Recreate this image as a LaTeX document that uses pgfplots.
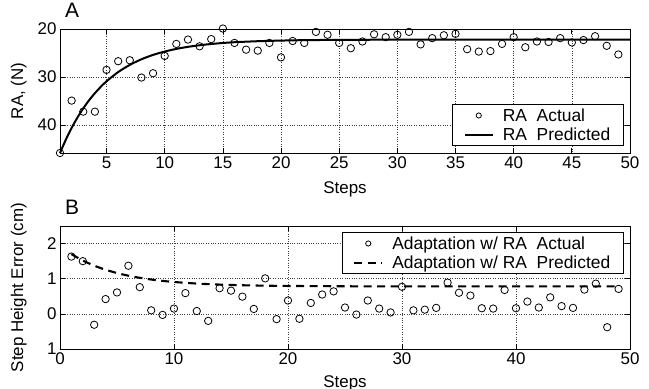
\documentclass[border=0pt]{standalone}
\usepackage{pgfplots}
\pgfplotsset{compat=1.18}
\usepackage{fontspec}
\setmainfont{Liberation Sans}
\newcommand{\fs}{\fontsize{17}{20}\selectfont}
\newcommand{\fl}{\fontsize{17.5}{20}\selectfont}
\newcommand{\ft}{\fontsize{21}{24}\selectfont}
\pgfplotsset{
  every axis/.append style={
    scale only axis, width=570bp,
    font=\fs,
    /pgf/number format/assume math mode=true,
    tick label style={font=\fs},
    axis line style={line width=0.9bp},
    every tick/.style={black, line width=0.7bp},
    major tick length=5bp,
    tick align=inside,
    xtick pos=both, ytick pos=both,
    grid=major,
    major grid style={dotted, line width=0.6bp, black!75},
    clip=false,
    xlabel style={at={(axis description cs:0.5,0)}, anchor=north, yshift=-28bp, inner sep=0pt},
    ylabel style={at={(axis description cs:-0.058,0.5)}, anchor=south, rotate=0, inner sep=0pt},
    title style={at={(axis description cs:0,1)}, anchor=south west, xshift=5bp, yshift=5bp, inner sep=0pt, font=\ft},
    legend style={draw=black, line width=0.8bp, font=\fl, nodes={font=\fl}, cells={anchor=west},
      inner xsep=11bp, inner ysep=2bp, row sep=1bp,
      /tikz/every odd column/.append style={column sep=7bp}},
  },
  pts/.style={only marks, mark=o, mark size=3.7bp, mark options={line width=0.8bp, black},
    legend image code/.code={\draw[mark repeat=2,mark phase=2,#1,only marks, mark size=2.6bp] plot coordinates {(0bp,0bp) (14bp,0bp) (28bp,0bp)};}},
  lin/.style={legend image code/.code={\draw[#1] (0bp,0bp) -- (28bp,0bp);}},
}
\pgfplotstableread{
x y
1 45.8
2 34.9
3 37.2
4 37.2
5 28.5
6 26.7
7 26.5
8 30.1
9 29.2
10 25.6
11 23.1
12 22.2
13 23.6
14 22.1
15 19.9
16 22.9
17 24.3
18 24.5
19 22.9
20 25.9
21 22.5
22 22.9
23 20.6
24 21.2
25 22.9
26 24.0
27 22.6
28 21.1
29 21.7
30 21.2
31 20.6
32 23.2
33 21.9
34 21.3
35 21.0
36 24.2
37 24.7
38 24.6
39 23.1
40 21.7
41 23.8
42 22.6
43 22.7
44 21.9
45 22.8
46 22.3
47 21.5
48 23.5
49 25.3
}\raActual
\pgfplotstableread{
x y
1 45.8
1.5 43.03
2 40.58
2.5 38.42
3 36.51
3.5 34.83
4 33.35
4.5 32.04
5 30.88
6 28.96
7 27.47
8 26.30
9 25.39
10 24.69
11 24.14
12 23.71
13 23.38
14 23.12
15 22.91
16 22.75
18 22.54
20 22.41
22 22.32
25 22.26
30 22.22
35 22.20
50 22.20
}\raPred
\pgfplotstableread{
x y
1 1.63
2 1.50
3 -0.31
4 0.42
5 0.61
6 1.37
7 0.76
8 0.10
9 -0.03
10 0.15
11 0.59
12 0.08
13 -0.20
14 0.73
15 0.66
16 0.49
17 0.14
18 1.01
19 -0.15
20 0.38
21 -0.14
22 0.31
23 0.55
24 0.64
25 0.18
26 -0.02
27 0.38
28 0.15
29 0.04
30 0.77
31 0.10
32 0.12
33 0.17
34 0.89
35 0.60
36 0.52
37 0.16
38 0.15
39 0.68
40 0.16
41 0.35
42 0.18
43 0.47
44 0.22
45 0.17
46 0.69
47 0.86
48 -0.38
49 0.71
}\adActual
\pgfplotstableread{
x y
1 1.700
2 1.518
3 1.372
4 1.255
5 1.162
6 1.086
7 1.026
8 0.977
9 0.938
10 0.907
12 0.862
14 0.833
16 0.814
18 0.802
20 0.794
25 0.785
30 0.781
49 0.780
}\adPred
\begin{document}
\begin{tikzpicture}
\path[use as bounding box] (-60bp,29bp) rectangle (589bp,-360bp);
\begin{axis}[
  at={(0,0)}, anchor=north west,
  height=124bp,
  xmin=1, xmax=50, ymin=20, ymax=45.8, y dir=reverse,
  xtick={5,10,...,50}, ytick={20,30,40},
  xlabel={Steps}, ylabel={RA, (N)},
  title={A},
  legend style={at={(axis description cs:0.989,0.056)}, anchor=south east},
]
\addplot[pts] table {\raActual};
\addlegendentry{RA\ \ Actual}
\addplot[lin, black, line width=2bp, smooth] table {\raPred};
\addlegendentry{RA\ \ Predicted}
\end{axis}
\begin{axis}[
  at={(0,-197bp)}, anchor=north west,
  height=123bp,
  xmin=0, xmax=50, ymin=-1, ymax=2.5,
  xtick={0,10,...,50}, ytick={-1,0,1,2},
  yticklabels={1\hspace{9bp},0,1,2},
  xlabel={Steps}, ylabel={Step Height Error (cm)},
  xlabel style={yshift=2bp},
  title={B},
  legend style={at={(axis description cs:0.989,0.951)}, anchor=north east},
]
\addplot[pts] table {\adActual};
\addlegendentry{Adaptation w/ RA\ \ Actual}
\addplot[lin, black, line width=2.1bp, dash pattern=on 8bp off 5.5bp, smooth] table {\adPred};
\addlegendentry{Adaptation w/ RA\ \ Predicted}
\end{axis}
\end{tikzpicture}
\end{document}
